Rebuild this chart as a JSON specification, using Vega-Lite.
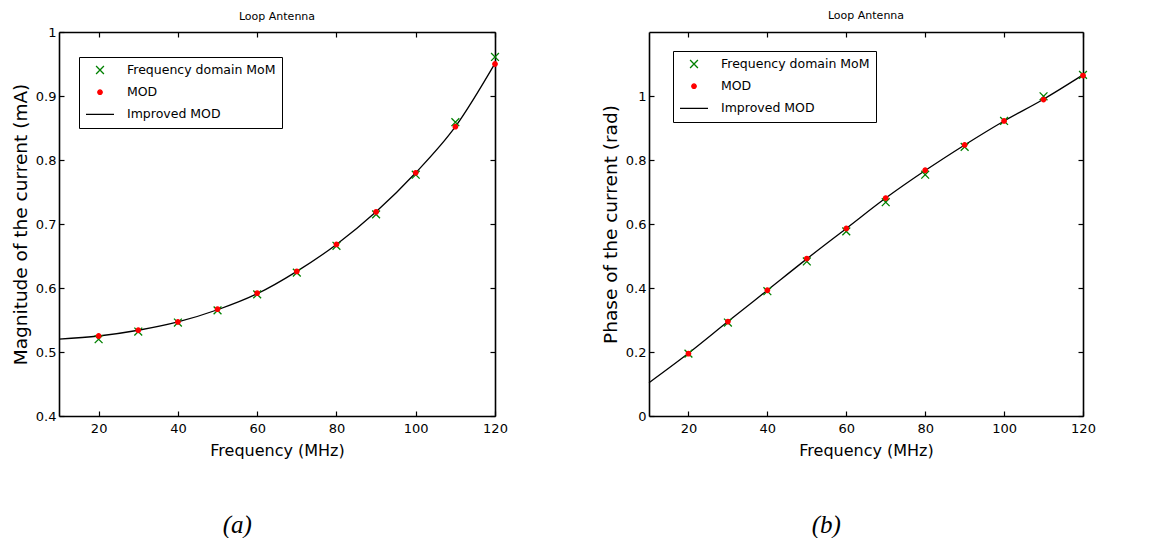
{
  "$schema": "https://vega.github.io/schema/vega-lite/v6.json",
  "background": "white",
  "padding": {"left": 11, "top": 10, "right": 5, "bottom": 0},
  "datasets": {
    "magnitude": [
      {"freq": 20, "value": 0.520, "series": "Frequency domain MoM"},
      {"freq": 30, "value": 0.532, "series": "Frequency domain MoM"},
      {"freq": 40, "value": 0.546, "series": "Frequency domain MoM"},
      {"freq": 50, "value": 0.565, "series": "Frequency domain MoM"},
      {"freq": 60, "value": 0.590, "series": "Frequency domain MoM"},
      {"freq": 70, "value": 0.624, "series": "Frequency domain MoM"},
      {"freq": 80, "value": 0.666, "series": "Frequency domain MoM"},
      {"freq": 90, "value": 0.715, "series": "Frequency domain MoM"},
      {"freq": 100, "value": 0.777, "series": "Frequency domain MoM"},
      {"freq": 110, "value": 0.859, "series": "Frequency domain MoM"},
      {"freq": 120, "value": 0.961, "series": "Frequency domain MoM"},
      {"freq": 20, "value": 0.525, "series": "MOD"},
      {"freq": 30, "value": 0.534, "series": "MOD"},
      {"freq": 40, "value": 0.547, "series": "MOD"},
      {"freq": 50, "value": 0.567, "series": "MOD"},
      {"freq": 60, "value": 0.592, "series": "MOD"},
      {"freq": 70, "value": 0.626, "series": "MOD"},
      {"freq": 80, "value": 0.668, "series": "MOD"},
      {"freq": 90, "value": 0.719, "series": "MOD"},
      {"freq": 100, "value": 0.780, "series": "MOD"},
      {"freq": 110, "value": 0.852, "series": "MOD"},
      {"freq": 120, "value": 0.950, "series": "MOD"},
      {"freq": 10, "value": 0.520, "series": "Improved MOD"},
      {"freq": 20, "value": 0.525, "series": "Improved MOD"},
      {"freq": 30, "value": 0.534, "series": "Improved MOD"},
      {"freq": 40, "value": 0.547, "series": "Improved MOD"},
      {"freq": 50, "value": 0.566, "series": "Improved MOD"},
      {"freq": 60, "value": 0.591, "series": "Improved MOD"},
      {"freq": 70, "value": 0.626, "series": "Improved MOD"},
      {"freq": 80, "value": 0.668, "series": "Improved MOD"},
      {"freq": 90, "value": 0.719, "series": "Improved MOD"},
      {"freq": 100, "value": 0.780, "series": "Improved MOD"},
      {"freq": 110, "value": 0.852, "series": "Improved MOD"},
      {"freq": 120, "value": 0.951, "series": "Improved MOD"}
    ],
    "phase": [
      {"freq": 20, "value": 0.195, "series": "Frequency domain MoM"},
      {"freq": 30, "value": 0.292, "series": "Frequency domain MoM"},
      {"freq": 40, "value": 0.390, "series": "Frequency domain MoM"},
      {"freq": 50, "value": 0.483, "series": "Frequency domain MoM"},
      {"freq": 60, "value": 0.577, "series": "Frequency domain MoM"},
      {"freq": 70, "value": 0.668, "series": "Frequency domain MoM"},
      {"freq": 80, "value": 0.754, "series": "Frequency domain MoM"},
      {"freq": 90, "value": 0.841, "series": "Frequency domain MoM"},
      {"freq": 100, "value": 0.922, "series": "Frequency domain MoM"},
      {"freq": 110, "value": 0.999, "series": "Frequency domain MoM"},
      {"freq": 120, "value": 1.066, "series": "Frequency domain MoM"},
      {"freq": 20, "value": 0.195, "series": "MOD"},
      {"freq": 30, "value": 0.295, "series": "MOD"},
      {"freq": 40, "value": 0.393, "series": "MOD"},
      {"freq": 50, "value": 0.492, "series": "MOD"},
      {"freq": 60, "value": 0.586, "series": "MOD"},
      {"freq": 70, "value": 0.681, "series": "MOD"},
      {"freq": 80, "value": 0.768, "series": "MOD"},
      {"freq": 90, "value": 0.847, "series": "MOD"},
      {"freq": 100, "value": 0.922, "series": "MOD"},
      {"freq": 110, "value": 0.989, "series": "MOD"},
      {"freq": 120, "value": 1.064, "series": "MOD"},
      {"freq": 10, "value": 0.104, "series": "Improved MOD"},
      {"freq": 20, "value": 0.196, "series": "Improved MOD"},
      {"freq": 30, "value": 0.295, "series": "Improved MOD"},
      {"freq": 40, "value": 0.393, "series": "Improved MOD"},
      {"freq": 50, "value": 0.491, "series": "Improved MOD"},
      {"freq": 60, "value": 0.586, "series": "Improved MOD"},
      {"freq": 70, "value": 0.681, "series": "Improved MOD"},
      {"freq": 80, "value": 0.767, "series": "Improved MOD"},
      {"freq": 90, "value": 0.847, "series": "Improved MOD"},
      {"freq": 100, "value": 0.922, "series": "Improved MOD"},
      {"freq": 110, "value": 0.990, "series": "Improved MOD"},
      {"freq": 120, "value": 1.066, "series": "Improved MOD"}
    ]
  },
  "spacing": 93,
  "hconcat": [
    {
      "title": {"text": "(a)", "orient": "bottom", "anchor": "middle", "offset": 55, "dx": -22, "font": "Liberation Serif", "fontStyle": "italic", "fontSize": 25, "fontWeight": "normal", "color": "black"},
      "vconcat": [
        {
          "title": {"text": "Loop Antenna", "frame": "group", "anchor": "middle", "offset": 4.5, "fontSize": 11, "fontWeight": "normal", "color": "black", "font": "DejaVu Sans"},
          "width": 436,
          "height": 384,
          "data": {"name": "magnitude"},
          "resolve": {"axis": {"x": "independent", "y": "independent"}},
          "layer": [
            {
              "transform": [{"filter": "datum.series === 'Improved MOD'"}],
              "mark": {"type": "line", "color": "black", "strokeWidth": 1.3, "interpolate": "monotone"},
              "encoding": {
                "x": {"field": "freq", "type": "quantitative", "scale": {"domain": [10, 120], "nice": false, "zero": false},
                      "axis": {"orient": "bottom", "title": "Frequency (MHz)", "values": [20, 40, 60, 80, 100, 120]}},
                "y": {"field": "value", "type": "quantitative", "scale": {"domain": [0.4, 1], "nice": false, "zero": false},
                      "axis": {"orient": "left", "title": "Magnitude of the current (mA)", "values": [0.4, 0.5, 0.6, 0.7, 0.8, 0.9, 1], "format": "~g"}}
              }
            },
            {
              "transform": [{"filter": "datum.series !== 'Improved MOD'"}],
              "mark": {"type": "point", "size": 784, "opacity": 1, "strokeWidth": 1.3},
              "encoding": {
                "x": {"field": "freq", "type": "quantitative",
                      "axis": {"orient": "top", "title": null, "labels": false, "values": [20, 40, 60, 80, 100, 120]}},
                "y": {"field": "value", "type": "quantitative",
                      "axis": {"orient": "right", "title": null, "labels": false, "values": [0.4, 0.5, 0.6, 0.7, 0.8, 0.9, 1]}},
                "shape": {"field": "series", "type": "nominal",
                          "scale": {"domain": ["Frequency domain MoM", "MOD", "Improved MOD"],
                                    "range": ["M-0.28,-0.28L0.28,0.28M-0.28,0.28L0.28,-0.28", "M-0.16,0A0.16,0.16,0,1,1,0.16,0A0.16,0.16,0,1,1,-0.16,0Z", "stroke"]},
                          "legend": {"title": null, "orient": "none", "legendX": 20, "legendY": 25}},
                "fill": {"field": "series", "type": "nominal",
                         "scale": {"domain": ["Frequency domain MoM", "MOD", "Improved MOD"], "range": ["#008000", "#ff0000", "black"]},
                         "legend": {"title": null, "orient": "none", "legendX": 20, "legendY": 25}},
                "stroke": {"field": "series", "type": "nominal",
                           "scale": {"domain": ["Frequency domain MoM", "MOD", "Improved MOD"], "range": ["#008000", "#ff0000", "black"]},
                           "legend": {"title": null, "orient": "none", "legendX": 20, "legendY": 25}}
              }
            }
          ]
        }
      ]
    },
    {
      "title": {"text": "(b)", "orient": "bottom", "anchor": "middle", "offset": 55, "dx": -22, "font": "Liberation Serif", "fontStyle": "italic", "fontSize": 25, "fontWeight": "normal", "color": "black"},
      "vconcat": [
        {
          "title": {"text": "Loop Antenna", "frame": "group", "anchor": "middle", "offset": 10, "fontSize": 11, "fontWeight": "normal", "color": "black", "font": "DejaVu Sans"},
          "width": 434,
          "height": 384,
          "data": {"name": "phase"},
          "resolve": {"axis": {"x": "independent", "y": "independent"}},
          "layer": [
            {
              "transform": [{"filter": "datum.series === 'Improved MOD'"}],
              "mark": {"type": "line", "color": "black", "strokeWidth": 1.3, "interpolate": "monotone"},
              "encoding": {
                "x": {"field": "freq", "type": "quantitative", "scale": {"domain": [10, 120], "nice": false, "zero": false},
                      "axis": {"orient": "bottom", "title": "Frequency (MHz)", "values": [20, 40, 60, 80, 100, 120]}},
                "y": {"field": "value", "type": "quantitative", "scale": {"domain": [0, 1.2], "nice": false, "zero": false},
                      "axis": {"orient": "left", "title": "Phase of the current (rad)", "values": [0, 0.2, 0.4, 0.6, 0.8, 1], "format": "~g"}}
              }
            },
            {
              "transform": [{"filter": "datum.series !== 'Improved MOD'"}],
              "mark": {"type": "point", "size": 784, "opacity": 1, "strokeWidth": 1.3},
              "encoding": {
                "x": {"field": "freq", "type": "quantitative",
                      "axis": {"orient": "top", "title": null, "labels": false, "values": [20, 40, 60, 80, 100, 120]}},
                "y": {"field": "value", "type": "quantitative",
                      "axis": {"orient": "right", "title": null, "labels": false, "values": [0, 0.2, 0.4, 0.6, 0.8, 1]}},
                "shape": {"field": "series", "type": "nominal",
                          "scale": {"domain": ["Frequency domain MoM", "MOD", "Improved MOD"],
                                    "range": ["M-0.28,-0.28L0.28,0.28M-0.28,0.28L0.28,-0.28", "M-0.16,0A0.16,0.16,0,1,1,0.16,0A0.16,0.16,0,1,1,-0.16,0Z", "stroke"]},
                          "legend": {"title": null, "orient": "none", "legendX": 24, "legendY": 19}},
                "fill": {"field": "series", "type": "nominal",
                         "scale": {"domain": ["Frequency domain MoM", "MOD", "Improved MOD"], "range": ["#008000", "#ff0000", "black"]},
                         "legend": {"title": null, "orient": "none", "legendX": 24, "legendY": 19}},
                "stroke": {"field": "series", "type": "nominal",
                           "scale": {"domain": ["Frequency domain MoM", "MOD", "Improved MOD"], "range": ["#008000", "#ff0000", "black"]},
                           "legend": {"title": null, "orient": "none", "legendX": 24, "legendY": 19}}
              }
            }
          ]
        }
      ]
    }
  ],
  "resolve": {"scale": {"shape": "independent", "fill": "independent", "stroke": "independent"}, "legend": {"shape": "independent", "fill": "independent", "stroke": "independent"}},
  "config": {
    "font": "DejaVu Sans",
    "view": {"stroke": null},
    "axis": {
      "grid": false,
      "domainColor": "black",
      "domainWidth": 1.6,
      "tickColor": "black",
      "tickWidth": 1.2,
      "tickSize": -5,
      "labelColor": "black",
      "labelFont": "DejaVu Sans",
      "labelFontSize": 13,
      "labelFlush": false,
      "labelOverlap": false,
      "titleFont": "DejaVu Sans",
      "titleFontWeight": "normal",
      "titleColor": "black"
    },
    "axisX": {"labelPadding": 11, "titleFontSize": 16, "titlePadding": 7},
    "axisY": {"labelPadding": 8, "titleFontSize": 18.5, "titlePadding": 5},
    "legend": {
      "strokeColor": "black",
      "fillColor": "white",
      "padding": 6,
      "clipHeight": 14,
      "symbolSize": 784,
      "symbolStrokeWidth": 1.3,
      "symbolOpacity": 1,
      "labelOffset": 12,
      "labelFont": "DejaVu Sans",
      "labelFontSize": 12.5,
      "labelColor": "black",
      "labelLimit": 300,
      "rowPadding": 8.2
    }
  }
}
